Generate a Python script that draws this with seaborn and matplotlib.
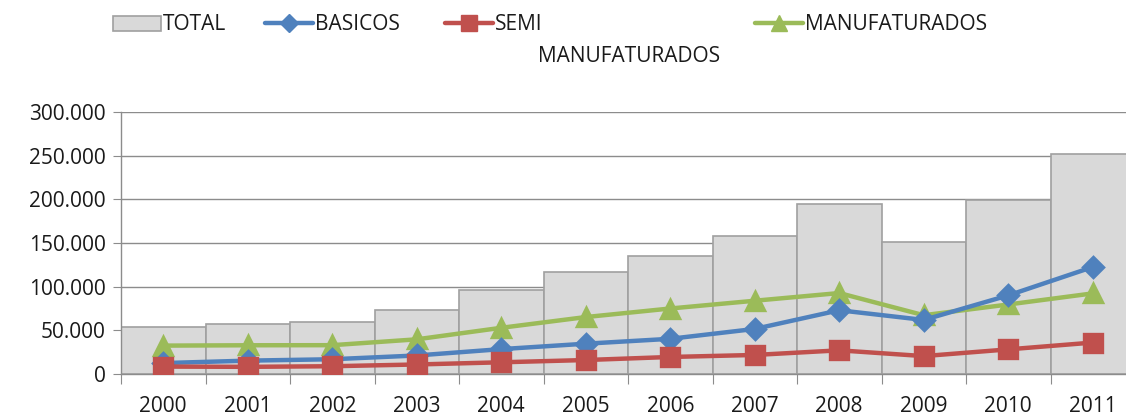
import numpy as np
import pandas as pd
import matplotlib
matplotlib.use('Agg')
import matplotlib.pyplot as plt
import seaborn as sns
from matplotlib.lines import Line2D
from matplotlib.patches import Patch

years = ['2000', '2001', '2002', '2003', '2004', '2005',
         '2006', '2007', '2008', '2009', '2010', '2011']
total = [54000, 57000, 59500, 73000, 96000, 117000,
         135000, 158000, 195000, 151000, 199000, 252000]
basicos = [12500, 15300, 16900, 21200, 28500, 34700,
           40300, 51600, 73000, 61900, 90000, 122500]
semi = [8500, 8200, 8900, 10900, 13400, 16000,
        19500, 21800, 27100, 20500, 28200, 36000]
manuf = [32500, 32900, 33000, 39700, 52900, 65200,
         75000, 83900, 92700, 67300, 79600, 92300]

c_total = '#d9d9d9'
c_edge = '#a0a0a0'
c_bas = '#4f81bd'
c_semi = '#c0504d'
c_man = '#9bbb59'

df = pd.DataFrame({'ano': years, 'TOTAL': total, 'BASICOS': basicos,
                   'SEMI': semi, 'MANUF': manuf})

sns.set_style('white')
plt.rcParams['font.family'] = ['Open Sans', 'DejaVu Sans']
fs = 15
txt = '#1a1a1a'

fig = plt.figure(figsize=(11.26, 4.19), dpi=100)
ax = fig.add_axes([121 / 1126, 1 - 374 / 419, 1014 / 1126, 262 / 419])

sns.barplot(data=df, x='ano', y='TOTAL', color=c_total, width=1.0,
            edgecolor=c_edge, linewidth=1.2, saturation=1, ax=ax, zorder=2)

for col, c, m, ms in [('MANUF', c_man, '^', 13),
                      ('BASICOS', c_bas, 'D', 10.5),
                      ('SEMI', c_semi, 's', 13)]:
    sns.pointplot(data=df, x='ano', y=col, color=c, marker=m, markersize=ms,
                  linewidth=3.2, errorbar=None, ax=ax, zorder=4)

ax.set_ylim(0, 300000)
ax.set_xlim(-0.5, 11.5)
yt = np.arange(0, 300001, 50000)
ax.set_yticks(yt)
ax.set_yticklabels([f'{v:,.0f}'.replace(',', '.') for v in yt], fontsize=fs, color=txt)
ax.yaxis.grid(True, color='#8c8c8c', linewidth=1.0, zorder=0)
ax.set_axisbelow(True)

# ticks at category boundaries, labels at centres
ax.set_xticks(np.arange(-0.5, 12, 1))
ax.set_xticklabels([])
ax.set_xticks(np.arange(12), minor=True)
ax.set_xticklabels(years, minor=True, fontsize=fs, color=txt)
ax.tick_params(axis='x', which='major', length=7, color='#8c8c8c', direction='out', bottom=True)
ax.tick_params(axis='x', which='minor', length=0, pad=16)
ax.tick_params(axis='y', length=6, color='#8c8c8c', left=True, pad=5)
ax.set_xlabel('')
ax.set_ylabel('')

for s in ['top', 'right']:
    ax.spines[s].set_visible(False)
for s in ['left', 'bottom']:
    ax.spines[s].set_color('#8c8c8c')
    ax.spines[s].set_linewidth(1.0)

# legend, one entry at a time as in the original layout
ly = 1 - 25 / 419
items = [
    (Patch(facecolor=c_total, edgecolor=c_edge, linewidth=1.2), 'TOTAL', 113),
    (Line2D([], [], color=c_bas, lw=3.2, marker='D', ms=9), 'BASICOS', 265),
    (Line2D([], [], color=c_semi, lw=3.2, marker='s', ms=11), 'SEMI', 445),
    (Line2D([], [], color=c_man, lw=3.2, marker='^', ms=12), 'MANUFATURADOS', 755),
]
for h, lab, x in items:
    leg = fig.legend(handles=[h], labels=[lab], loc='center left',
                     bbox_to_anchor=(x / 1126, ly), frameon=False,
                     fontsize=fs, handlelength=2.3, handleheight=0.75,
                     handletextpad=0.1, borderpad=0, borderaxespad=0)
    for t in leg.get_texts():
        t.set_color(txt)
fig.text(538 / 1126, 1 - 57 / 419, 'MANUFATURADOS', fontsize=fs,
         color=txt, va='center', ha='left')

fig.savefig('out.png', dpi=100)
